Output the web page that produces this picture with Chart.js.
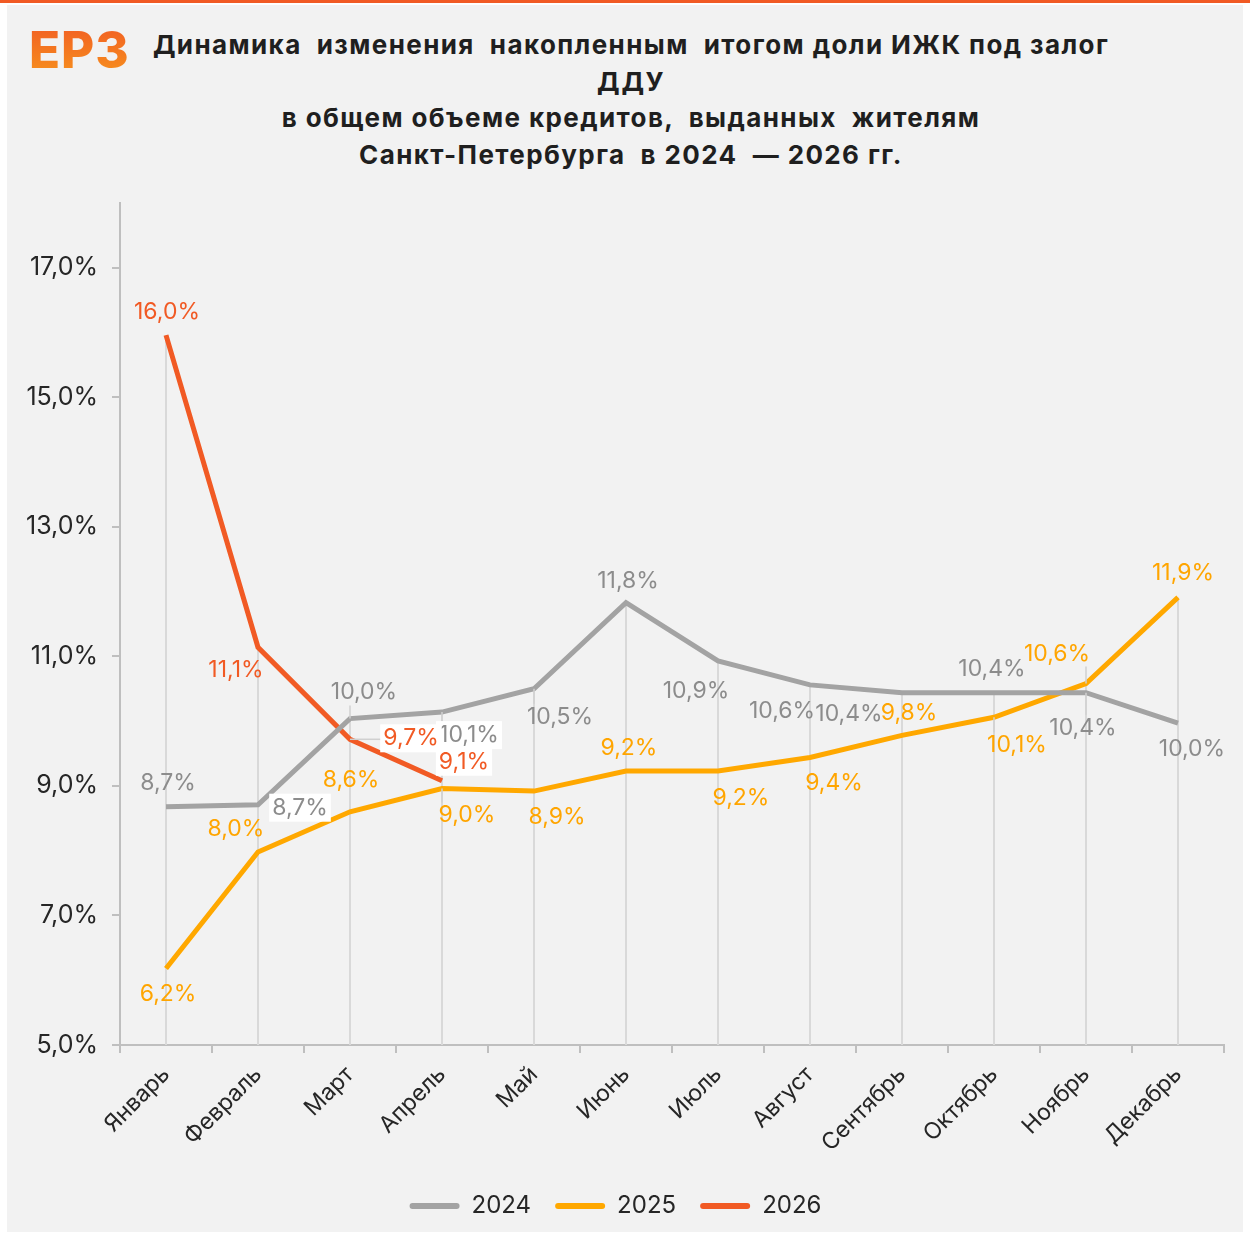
<!DOCTYPE html>
<html>
<head>
<meta charset="utf-8">
<script src="https://cdn.jsdelivr.net/npm/chart.js@4.4.1/dist/chart.umd.min.js"></script>
<style>
  body { margin: 0; background: #fff; width: 1250px; height: 1237px; position: relative; overflow: hidden; font-family: Inter, sans-serif; }
  #topbar { position: absolute; left: 0; top: 0; width: 1250px; height: 3px; background: #f15a24; }
  #panel { position: absolute; left: 7px; top: 5px; width: 1236px; height: 1227px; background: #f2f2f2; }
  #logo { position: absolute; left: 29px; top: 19px; font-size: 51px; font-weight: 800; letter-spacing: 1px;
          background: linear-gradient(#f15a24, #f7941d); -webkit-background-clip: text; background-clip: text; color: transparent; }
  #title { position: absolute; left: 81px; width: 1100px; top: 27px; text-align: center; font-weight: 700; font-size: 26px; letter-spacing: 1.4px; line-height: 36.5px; color: #1f1f1f; white-space: pre; }
  #chart { position: absolute; left: 7px; top: 5px; }
</style>
</head>
<body>
<div id="topbar"></div>
<div id="panel"></div>
<div id="logo">ЕРЗ</div>
<div id="title">Динамика  изменения  накопленным  итогом доли ИЖК под залог
ДДУ
в общем объеме кредитов,  выданных  жителям
Санкт-Петербурга  в 2024  — 2026 гг.</div>
<canvas id="chart" width="1236" height="1227"></canvas>
<script>
// categories and series
const months = ['Январь', 'Февраль', 'Март', 'Апрель', 'Май', 'Июнь', 'Июль', 'Август', 'Сентябрь', 'Октябрь', 'Ноябрь', 'Декабрь'];
const values2024 = [8.68, 8.71, 10.04, 10.14, 10.5, 11.83, 10.93, 10.56, 10.44, 10.44, 10.44, 9.97];
const values2025 = [6.18, 7.98, 8.6, 8.96, 8.92, 9.23, 9.23, 9.44, 9.78, 10.06, 10.58, 11.91];
const values2026 = [15.96, 11.14, 9.72, 9.08];
const yTicks = [5, 7, 9, 11, 13, 15, 17];

// label placement per dataset: [dx, dy, whiteBox, leaderLine]
const labelPlacement = [
  [[2, -24], [42, 3, 1], [14, -26, 0, 1], [27, 23, 1, 1], [26, 28, 0, 1], [2, -22], [-22, 30], [-28, 26], [-53, 21], [-2, -24], [-3, 35, 0, 1], [14, 26]],
  [[2, 26], [-22, -23], [1, -32], [25, 27, 0, 1], [23, 26], [3, -23], [23, 27], [24, 26], [7, -22], [23, 28, 0, 1], [-29, -30, 0, 1], [5, -24]],
  [[1, -23], [-22, 23], [61, -1, 1, 1], [22, -19, 1]]
];
const labelColors = ['#8c8c8c', '#ffa500', '#f15a24'];

function fmt(v) {
  return v.toFixed(1).replace('.', ',') + '%';
}

// vertical lines from the highest point of each month down to the axis
const dropLines = {
  id: 'dropLines',
  beforeDatasetsDraw(chart) {
    const { ctx, chartArea, scales } = chart;
    ctx.save();
    ctx.strokeStyle = '#d9d9d9';
    ctx.lineWidth = 2;
    months.forEach((m, i) => {
      const vals = chart.data.datasets.map(d => d.data[i]).filter(v => v !== undefined && v !== null);
      if (!vals.length) return;
      const x = scales.x.getPixelForValue(i);
      const y = scales.y.getPixelForValue(Math.max(...vals));
      ctx.beginPath();
      ctx.moveTo(x, y);
      ctx.lineTo(x, chartArea.bottom);
      ctx.stroke();
    });
    ctx.restore();
  }
};

// value labels
const valueLabels = {
  id: 'valueLabels',
  afterDatasetsDraw(chart) {
    const { ctx } = chart;
    ctx.save();
    ctx.font = '23px Inter';
    ctx.textAlign = 'center';
    ctx.textBaseline = 'middle';
    const boxes = [];
    chart.data.datasets.forEach((ds, di) => {
      const meta = chart.getDatasetMeta(di);
      meta.data.forEach((pt, i) => {
        const pl = labelPlacement[di][i];
        const text = fmt(ds.data[i]);
        const w = ctx.measureText(text).width;
        const cx = pt.x + pl[0], cy = pt.y + pl[1];
        boxes.push({ text, cx, cy, w, h: 26, white: pl[2], leader: pl[3], px: pt.x, py: pt.y, color: labelColors[di] });
      });
    });
    // leader lines
    ctx.strokeStyle = '#d0d0d0';
    ctx.lineWidth = 1.5;
    boxes.forEach(b => {
      if (!b.leader) return;
      const l = b.cx - b.w / 2 - 2, r = b.cx + b.w / 2 + 2, t = b.cy - b.h / 2, btm = b.cy + b.h / 2;
      const nx = Math.min(Math.max(b.px, l), r);
      const ny = Math.min(Math.max(b.py, t), btm);
      ctx.beginPath();
      ctx.moveTo(b.px, b.py);
      ctx.lineTo(nx, ny);
      ctx.stroke();
    });
    boxes.forEach(b => {
      if (b.white) {
        ctx.fillStyle = '#ffffff';
        ctx.fillRect(b.cx - b.w / 2 - 3, b.cy - b.h / 2 - 1, b.w + 6, b.h + 2);
      }
      ctx.fillStyle = b.color;
      ctx.fillText(b.text, b.cx, b.cy);
    });
    ctx.restore();
  }
};

new Chart(document.getElementById('chart'), {
  type: 'line',
  data: {
    labels: months,
    datasets: [
      { label: '2024', data: values2024, borderColor: '#a3a3a3', backgroundColor: '#a3a3a3', borderWidth: 5, pointRadius: 0, tension: 0 },
      { label: '2025', data: values2025, borderColor: '#ffa800', backgroundColor: '#ffa800', borderWidth: 5, pointRadius: 0, tension: 0 },
      { label: '2026', data: values2026, borderColor: '#f15a24', backgroundColor: '#f15a24', borderWidth: 5, pointRadius: 0, tension: 0 }
    ]
  },
  options: {
    responsive: false,
    animation: false,
    layout: { padding: { top: 198, right: 19, left: 0, bottom: 4 } },
    plugins: {
      tooltip: { enabled: false },
      legend: {
        position: 'bottom',
        labels: {
          color: '#262626',
          font: { family: 'Inter', size: 24 },
          boxWidth: 50,
          boxHeight: 6,
          useBorderRadius: true,
          borderRadius: 3,
          padding: 24,
          generateLabels(chart) {
            return Chart.defaults.plugins.legend.labels.generateLabels(chart).map(item => {
              item.lineWidth = 0;
              return item;
            });
          }
        }
      }
    },
    scales: {
      x: {
        offset: true,
        grid: { offset: true, drawOnChartArea: false, drawTicks: true, tickLength: 8, color: '#bfbfbf', lineWidth: 2 },
        border: { color: '#bfbfbf', width: 2 },
        ticks: { color: '#262626', font: { family: 'Inter', size: 23 }, minRotation: 45, maxRotation: 45, autoSkip: false, padding: 8 },
        afterFit(scale) { scale.height = 125; }
      },
      y: {
        min: 5,
        max: 18,
        afterBuildTicks(scale) { scale.ticks = yTicks.map(v => ({ value: v })); },
        grid: { drawOnChartArea: false, drawTicks: true, tickLength: 8, color: '#bfbfbf', lineWidth: 2 },
        border: { color: '#bfbfbf', width: 2 },
        ticks: { color: '#262626', font: { family: 'Inter', size: 25 }, padding: 14, callback: v => v.toFixed(1).replace('.', ',') + '%' },
        afterFit(scale) { scale.width = 113; }
      }
    }
  },
  plugins: [dropLines, valueLabels]
});
</script>
</body>
</html>
